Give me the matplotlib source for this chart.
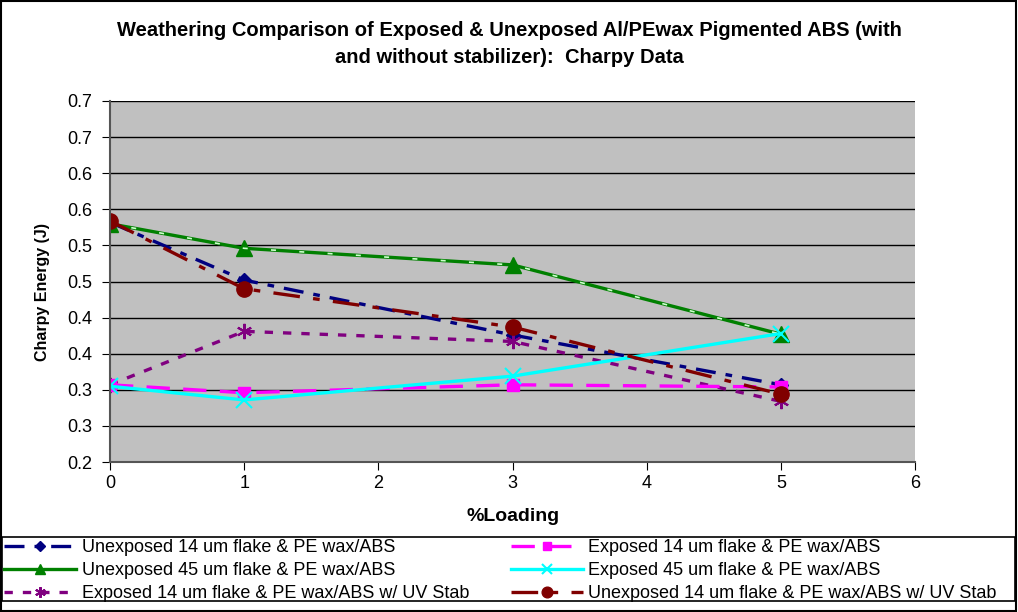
import matplotlib.pyplot as plt
from matplotlib.patches import Rectangle

plt.rcParams['font.family'] = ['Liberation Sans', 'DejaVu Sans']

# --- dados ---
loading = [0, 1, 3, 5]
unexp_14 = [0.532, 0.452, 0.376, 0.307]
exp_14 = [0.307, 0.296, 0.307, 0.304]
unexp_45 = [0.530, 0.496, 0.473, 0.377]
exp_45 = [0.305, 0.286, 0.319, 0.378]
exp_14_uv = [0.307, 0.381, 0.367, 0.284]
unexp_14_uv = [0.534, 0.440, 0.387, 0.294]

y_ticks = [0.20, 0.25, 0.30, 0.35, 0.40, 0.45, 0.50, 0.55, 0.60, 0.65, 0.70]
y_labels = ["0.2", "0.3", "0.3", "0.4", "0.4", "0.5", "0.5", "0.6", "0.6", "0.7", "0.7"]
x_ticks = [0, 1, 2, 3, 4, 5, 6]

fig = plt.figure(figsize=(10.18, 6.12), dpi=100)
ax = fig.add_axes([0.108, 0.245, 0.791, 0.59])
ax.set_facecolor("#C0C0C0")

ax.plot(loading, unexp_14, color="#000080", lw=2.4, ls=(0, (6, 3, 2, 3)),
        marker="D", ms=7, label="Unexposed 14 um flake & PE wax/ABS")
ax.plot(loading, unexp_45, color="#008000", lw=2.4, ls="-",
        marker="^", ms=11, label="Unexposed 45 um flake & PE wax/ABS")
# traços claros que aparecem sobre a linha verde
ax.plot(loading, unexp_45, color="#CCFFCC", lw=1.2, ls=(4, (3, 14)), label="_nolegend_")
ax.plot(loading, exp_14_uv, color="#800080", lw=2.4, ls=(0, (2.5, 3)),
        marker=(6, 2, 0), ms=11, mew=1.5, label="Exposed 14 um flake & PE wax/ABS w/ UV Stab")
ax.plot(loading, exp_14, color="#FF00FF", lw=2.4, ls=(0, (7, 4)),
        marker="s", ms=9, label="Exposed 14 um flake & PE wax/ABS")
ax.plot(loading, exp_45, color="#00FFFF", lw=2.4, ls="-",
        marker="x", ms=11, mew=1.5, label="Exposed 45 um flake & PE wax/ABS")
ax.plot(loading, unexp_14_uv, color="#800000", lw=2.4, ls=(0, (8, 4, 2, 4)),
        marker="o", ms=11, label="Unexposed 14 um flake & PE wax/ABS w/ UV Stab")

ax.set_xlim(0, 6)
ax.set_ylim(0.2, 0.7)
ax.set_xticks(x_ticks)
ax.set_yticks(y_ticks)
ax.set_yticklabels(y_labels)
ax.tick_params(labelsize=13, direction="out", length=6, color="black")
ax.tick_params(axis="y", pad=7)
ax.yaxis.grid(True, color="black", lw=1)
ax.set_axisbelow(True)
for s in ["top", "right"]:
    ax.spines[s].set_visible(False)
ax.spines["left"].set_color("#555555")
ax.spines["bottom"].set_color("#555555")
ax.spines["left"].set_linewidth(1.5)
ax.spines["bottom"].set_linewidth(1.5)

ax.set_xlabel("%Loading", fontsize=14, fontweight="bold", labelpad=11)
ax.set_ylabel("Charpy Energy (J)", fontsize=11.5, fontweight="bold", labelpad=9)
ax.yaxis.set_label_coords(-0.075, 0.47)
fig.text(0.5, 0.928, "Weathering Comparison of Exposed & Unexposed Al/PEwax Pigmented ABS (with\nand without stabilizer):  Charpy Data",
         ha="center", va="center", fontsize=14.5, fontweight="bold", linespacing=1.5)

handles, labels = ax.get_legend_handles_labels()
leg = fig.legend(handles, labels, loc="center left", bbox_to_anchor=(0.004, 0.068),
                 ncol=2, fontsize=13, frameon=False, handlelength=4, handletextpad=0.3,
                 borderaxespad=0, borderpad=0, labelspacing=0.33, columnspacing=2.3,
                 markerscale=0.7)

fig.patches.append(Rectangle((0.002, 0.018), 0.995, 0.105, transform=fig.transFigure,
                             fill=False, edgecolor="black", lw=1.2))
fig.patches.append(Rectangle((0.001, 0.002), 0.997, 0.996, transform=fig.transFigure,
                             fill=False, edgecolor="black", lw=1.5))

fig.savefig("out.png", dpi=100)
